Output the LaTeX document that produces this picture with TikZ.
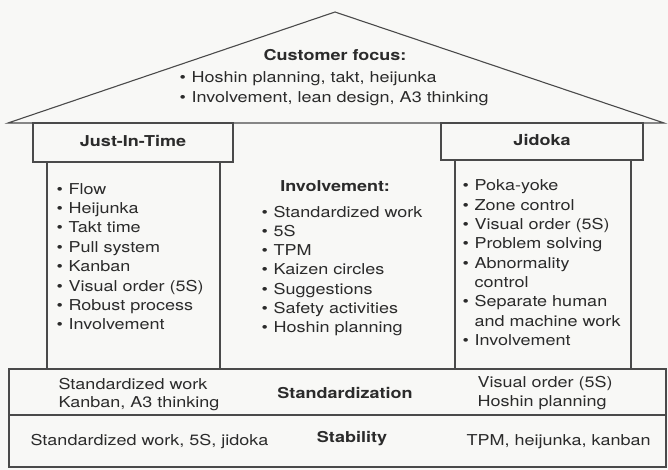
\documentclass[tikz,border=0pt]{standalone}
\usepackage{fontspec}
\setmainfont{TeX Gyre Heros}[FakeStretch=1.2]
\usepackage{xcolor}
\definecolor{ink}{HTML}{2B2B2B}
\definecolor{linegray}{HTML}{4A4A4A}
\definecolor{paper}{HTML}{F8F8F6}
\newcommand\bul{\makebox[0.8em][l]{\textbullet}}
\newcommand\nobul{\makebox[0.8em][l]{}}

\begin{document}
\begin{tikzpicture}[x=1pt,y=-1pt,line width=1.1pt,linegray,
    txt/.style={text=ink,inner sep=0pt,font=\fontsize{15}{19.4}\selectfont,
        text height=11pt,text depth=3pt},
    item/.style={txt,anchor=west},
    title/.style={txt,font=\fontsize{15}{19.4}\selectfont\bfseries}]
    \fill[paper] (0,0) rectangle (668,470);
    \useasboundingbox (0,0) rectangle (668,470);
    \def\roofItems{{Hoshin planning, takt, heijunka}, {Involvement, lean design, A3 thinking}}
    \def\jitItems{Flow, Heijunka, Takt time, Pull system, Kanban, Visual order (5S), Robust process, Involvement}
    \def\invItems{Standardized work, 5S, TPM, Kaizen circles, Suggestions, Safety activities, Hoshin planning}
    \def\jidItems{{\bul Poka-yoke}, {\bul Zone control}, {\bul Visual order (5S)}, {\bul Problem solving}, {\bul Abnormality}, {\nobul control}, {\bul Separate human}, {\nobul and machine work}, {\bul Involvement}}
    % roof
    \draw[line join=miter] (8,123) -- (335,12) -- (664,123) -- cycle;
    \node[title] (roof) at (335,57) {Customer focus:};
    \foreach \t [count=\i] in \roofItems{
        \node[item] (roof\i) at (179,{59+20*\i}) {\bul\t};
    }
    % pillars
    \draw (33,123) rectangle (233,162);
    \draw (47,162) rectangle (220,369);
    \draw (441,123) rectangle (643,160);
    \draw (455,160) rectangle (631,369);
    \node[title] (jit) at (133,142.5) {Just-In-Time};
    \node[title] (jid) at (542,141.5) {Jidoka};
    \node[title] (inv) at (335,188) {Involvement:};
    \foreach \t [count=\i] in \jitItems{
        \node[item] (jit\i) at (56,{170.6+19.4*\i}) {\bul\t};
    }
    \foreach \t [count=\i] in \invItems{
        \node[item] (inv\i) at (261,{193.7+19.3*\i}) {\bul\t};
    }
    \foreach \t [count=\i] in \jidItems{
        \node[item] (jid\i) at (462,{167.7+19.3*\i}) {\t};
    }
    % foundation
    \draw (9,369) rectangle (666,415);
    \draw (9,415) rectangle (666,467);
    \node[item] (std1) at (58,385) {Standardized work};
    \node[item] (std2) at (58,403) {Kanban, A3 thinking};
    \node[title] (std) at (345,394) {Standardization};
    \node[item] (std3) at (477,383) {Visual order (5S)};
    \node[item] (std4) at (477,402) {Hoshin planning};
    \node[item] (stb1) at (30,441) {Standardized work, 5S, jidoka};
    \node[title] (stb) at (352,438) {Stability};
    \node[item] (stb2) at (466,441) {TPM, heijunka, kanban};
\end{tikzpicture}
\end{document}
